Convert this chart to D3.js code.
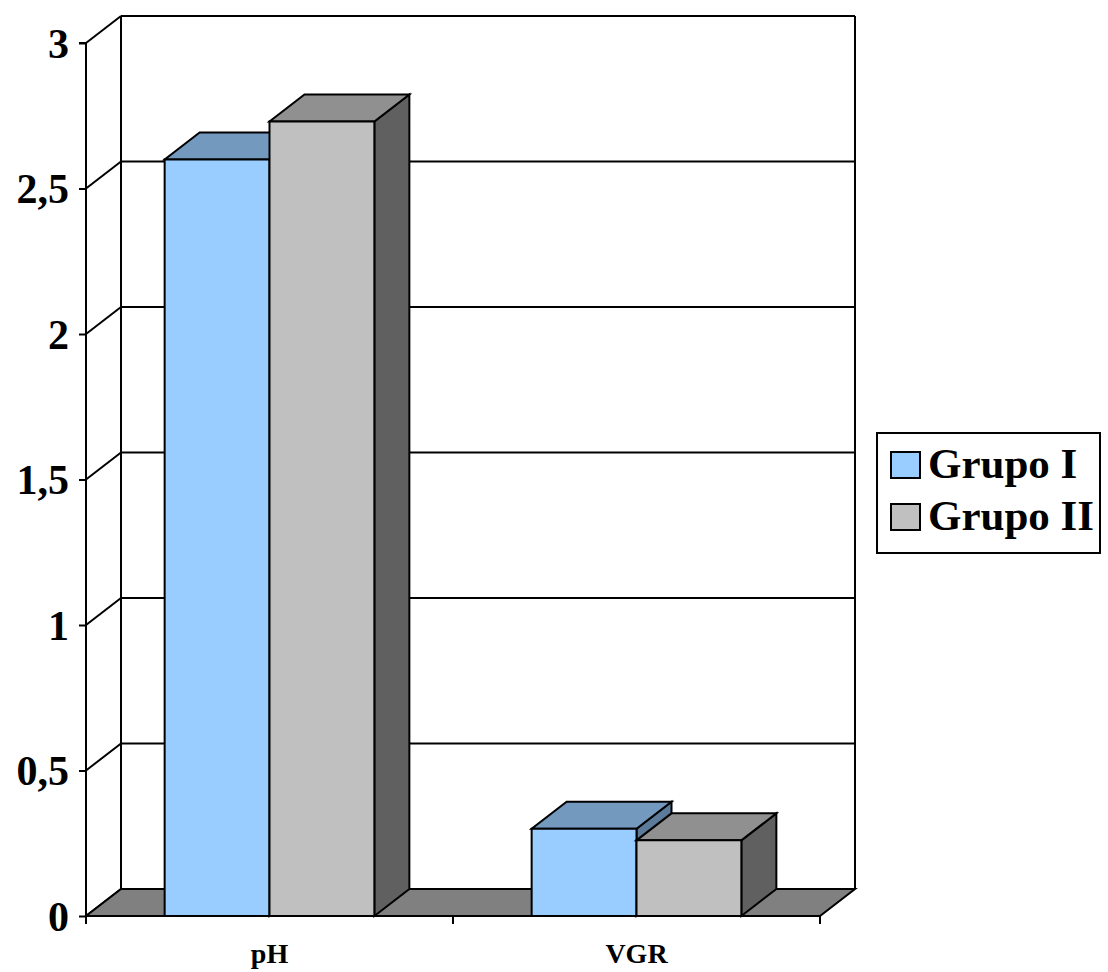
<!DOCTYPE html>
<html>
<head>
<meta charset="utf-8">
<script src="https://cdn.jsdelivr.net/npm/d3@7/dist/d3.min.js"></script>
<style>
  html, body { margin: 0; padding: 0; background: #fff; }
  svg { display: block; }
  text { font-family: "Liberation Serif", "Times New Roman", serif; font-weight: bold; fill: #000; }
</style>
</head>
<body>
<svg id="chart" width="1108" height="972"></svg>
<script>
// Data
const categories = ["pH", "VGR"];
const seriesNames = ["Grupo I", "Grupo II"];
const grupoI = [2.6, 0.3];
const grupoII = [2.73, 0.26];
const yTicks = [0, 0.5, 1, 1.5, 2, 2.5, 3];

// Colours per series: front face, top face, side face
const palette = {
  "Grupo I":  { front: "#99CCFF", top: "#7399BF", side: "#5C7A99" },
  "Grupo II": { front: "#C0C0C0", top: "#909090", side: "#606060" }
};

const svg = d3.select("#chart");
const plotLeft = 86, plotRight = 820, plotBottom = 916, plotTop = 43;
const dx = 35, dy = -27; // depth offset of the 3D box

const y = d3.scaleLinear().domain([0, 3]).range([plotBottom, plotTop]);
const x0 = d3.scaleBand().domain(categories).range([plotLeft, plotRight]);
const x1 = d3.scaleBand().domain(seriesNames).range([0, x0.bandwidth()])
  .paddingInner(0).paddingOuter(0.75);

const poly = (pts) => "M" + pts.map(p => p.join(",")).join("L") + "Z";
const strokeW = 2;

// Back wall gridlines and side wall diagonals
const walls = svg.append("g").attr("stroke", "#000").attr("stroke-width", strokeW);
yTicks.forEach(t => {
  const yy = y(t);
  if (t > 0) {
    walls.append("line")
      .attr("x1", plotLeft + dx).attr("x2", plotRight + dx)
      .attr("y1", yy + dy).attr("y2", yy + dy);
  }
  walls.append("line")
    .attr("x1", plotLeft).attr("y1", yy)
    .attr("x2", plotLeft + dx).attr("y2", yy + dy);
});
// Back wall vertical edges
[plotLeft + dx, plotRight + dx].forEach(xx => {
  walls.append("line")
    .attr("x1", xx).attr("x2", xx)
    .attr("y1", y(3) + dy).attr("y2", y(0) + dy);
});

// Floor
svg.append("path")
  .attr("d", poly([[plotLeft, plotBottom], [plotRight, plotBottom],
                   [plotRight + dx, plotBottom + dy], [plotLeft + dx, plotBottom + dy]]))
  .attr("fill", "#808080")
  .attr("stroke", "#000").attr("stroke-width", strokeW);

// Bars
const bars = svg.append("g");
categories.forEach((cat, i) => {
  const vals = { "Grupo I": grupoI[i], "Grupo II": grupoII[i] };
  seriesNames.forEach(s => {
    const c = palette[s];
    const xL = x0(cat) + x1(s);
    const xR = xL + x1.bandwidth();
    const yT = y(vals[s]);
    const yB = y(0);
    const g = bars.append("g")
      .attr("stroke", "#000").attr("stroke-width", strokeW);
    // side face
    g.append("path").attr("fill", c.side)
      .attr("d", poly([[xR, yB], [xR, yT], [xR + dx, yT + dy], [xR + dx, yB + dy]]));
    // top face
    g.append("path").attr("fill", c.top)
      .attr("d", poly([[xL, yT], [xR, yT], [xR + dx, yT + dy], [xL + dx, yT + dy]]));
    // front face
    g.append("path").attr("fill", c.front)
      .attr("d", poly([[xL, yB], [xR, yB], [xR, yT], [xL, yT]]));
  });
});

// Value axis
const yAxis = d3.axisLeft(y)
  .tickValues(yTicks)
  .tickSize(7)
  .tickPadding(10)
  .tickFormat(d => String(d).replace(".", ","));
const ya = svg.append("g").attr("transform", `translate(${plotLeft},0)`).call(yAxis);
ya.select(".domain").attr("stroke", "#000").attr("stroke-width", strokeW)
  .attr("d", `M-7,${y(3)}H0V${y(0)}`);
ya.selectAll(".tick line").attr("stroke", "#000").attr("stroke-width", strokeW);
ya.selectAll(".tick text")
  .attr("font-family", "'Liberation Serif', serif")
  .attr("font-weight", "bold")
  .attr("font-size", 42)
  .attr("dy", "0.34em")
  .attr("fill", "#000");

// Category axis
const xa = svg.append("g");
xa.append("line")
  .attr("x1", plotLeft).attr("x2", plotRight).attr("y1", plotBottom).attr("y2", plotBottom)
  .attr("stroke", "#000").attr("stroke-width", strokeW);
[plotLeft, ...categories.map(c => x0(c) + x0.bandwidth())].forEach(xx => {
  xa.append("line")
    .attr("x1", xx).attr("x2", xx).attr("y1", plotBottom).attr("y2", plotBottom + 8)
    .attr("stroke", "#000").attr("stroke-width", strokeW);
});
categories.forEach(c => {
  xa.append("text")
    .attr("x", x0(c) + x0.bandwidth() / 2)
    .attr("y", 963)
    .attr("text-anchor", "middle")
    .attr("font-size", 28)
    .text(c);
});

// Legend
const legend = svg.append("g");
legend.append("rect")
  .attr("x", 877).attr("y", 433).attr("width", 223).attr("height", 120)
  .attr("fill", "#fff").attr("stroke", "#000").attr("stroke-width", strokeW);
seriesNames.forEach((s, i) => {
  const baseY = 478 + i * 52;
  legend.append("rect")
    .attr("x", 891).attr("y", baseY - 26).attr("width", 29).attr("height", 26)
    .attr("fill", palette[s].front).attr("stroke", "#000").attr("stroke-width", strokeW);
  legend.append("text")
    .attr("x", 928).attr("y", baseY)
    .attr("font-size", 43)
    .text(s);
});
</script>
</body>
</html>
